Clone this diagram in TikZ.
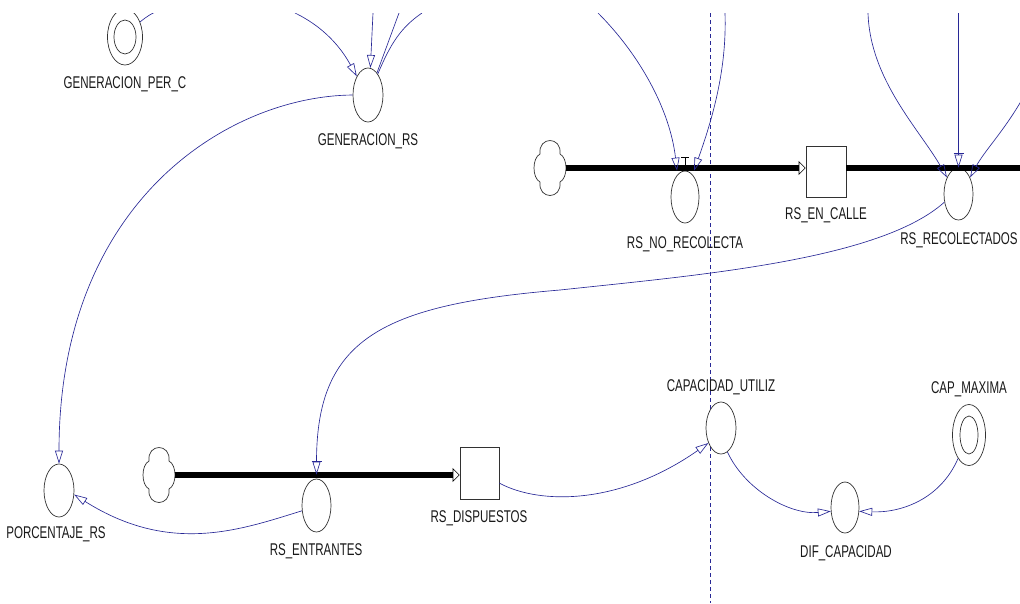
\documentclass[tikz,border=0pt]{standalone}
\usepackage{fontspec}
\setmainfont{Liberation Sans}
\usetikzlibrary{arrows.meta,shapes.geometric,calc}
\definecolor{linkblue}{RGB}{40,40,150}
\definecolor{shapegray}{RGB}{50,50,50}
\newcommand\mylbl[1]{\scalebox{0.68}[1]{#1}}
\begin{document}
\begin{tikzpicture}[x=1pt,y=-1pt,
  var/.style={ellipse, draw=shapegray, line width=0.7pt, fill=white, minimum width=29pt, minimum height=52pt, inner sep=0pt},
  innervar/.style={ellipse, draw=shapegray, line width=0.7pt, inner sep=0pt},
  lvl/.style={rectangle, draw=shapegray, line width=0.7pt, fill=white, minimum width=40pt, minimum height=52pt, inner sep=0pt},
  src/.style={ellipse, draw=none, minimum width=32pt, minimum height=56pt, inner sep=0pt},
  cloudline/.style={draw=shapegray, line width=0.7pt, fill=white},
  lab/.style={font=\fontsize{17}{18}\selectfont, inner sep=0pt, text=black!90},
  lnk/.style={draw=linkblue, line width=0.65pt, -{Triangle[open, length=13pt, width=8pt]}},
  plainlnk/.style={draw=linkblue, line width=0.65pt},
  valvebar/.style={draw=linkblue, line width=1.1pt},
  pipe/.style={draw=black, line width=5.5pt, -{Triangle[open, length=7pt, width=14pt, line width=0.6pt]}},
  pipeplain/.style={draw=black, line width=5.5pt},
  guide/.style={draw=linkblue, line width=0.6pt, dash pattern=on 4pt off 3pt},
]
\useasboundingbox (0,0) rectangle (1020,603);
\clip (0,13) rectangle (1020,603);

% free ends
\coordinate (a1) at (295,13);
\coordinate (a2) at (373,13);
\coordinate (a3) at (399,13);
\coordinate (a4) at (422,13);
\coordinate (a5) at (158,11);
\coordinate (b1) at (598,13);
\coordinate (b2) at (725,13);
\coordinate (c1) at (868,13);
\coordinate (c2) at (958.5,13);
\coordinate (c3) at (1024,96);
\coordinate (pend) at (1026,168);
\coordinate (d1) at (710,13);
\coordinate (d2) at (710,603);

% dashed guide
\draw[guide] (d1) -- (d2);

% nodes
\node[var, minimum width=35pt, minimum height=56pt] (gpc) at (125,37) {};
\node[innervar, minimum width=22pt, minimum height=34pt] (gpci) at (125,37) {};
\node[var, minimum width=30pt, minimum height=54pt] (genrs) at (368,95) {};
\node[src] (cloudA) at (550,168) {};
\node[var, minimum width=28pt, minimum height=52pt] (norec) at (685,197) {};
\node[lvl, minimum width=40pt, minimum height=51pt] (calle) at (826,171.5) {};
\node[var, minimum width=29pt, minimum height=52pt] (recol) at (958.5,194) {};
\node[src] (cloudB) at (159,475) {};
\node[var, minimum width=30pt, minimum height=53pt] (porc) at (59,490.5) {};
\node[var, minimum width=29pt, minimum height=53pt] (ent) at (316.5,505.5) {};
\node[lvl, minimum width=39pt, minimum height=52pt] (disp) at (479.5,473) {};
\node[var, minimum width=30pt, minimum height=52pt] (cap) at (721,428) {};
\node[var, minimum width=28pt, minimum height=51pt] (dif) at (845,507.5) {};
\node[var, minimum width=33pt, minimum height=61pt] (capmax) at (969,435) {};
\node[innervar, minimum width=18pt, minimum height=38pt] (capmaxi) at (969,435) {};

% cloud outlines
\begin{scope}[shift={(cloudA.center)}]
  \draw[cloudline] (10,-14) .. controls (12,-32) and (-12,-32) .. (-10,-14)
    .. controls (-18,-10) and (-18,10) .. (-10,14)
    .. controls (-12,32) and (12,32) .. (10,14)
    .. controls (18,10) and (18,-10) .. cycle;
\end{scope}
\begin{scope}[shift={(cloudB.center)}]
  \draw[cloudline] (10,-14) .. controls (12,-32) and (-12,-32) .. (-10,-14)
    .. controls (-18,-10) and (-18,10) .. (-10,14)
    .. controls (-12,32) and (12,32) .. (10,14)
    .. controls (18,10) and (18,-10) .. cycle;
\end{scope}

% pipes
\draw[pipe] (cloudA.east) -- (cloudA.east -| calle.west);
\draw[pipeplain] (calle.east |- cloudA.east) -- (pend);
\draw[pipe] (cloudB.east) -- (cloudB.east -| disp.west);

% labels
\node[lab] (lgpc) at (125,84) {\mylbl{GENERACION\_PER\_C}};
\node[lab] (lgenrs) at (368,141) {\mylbl{GENERACION\_RS}};
\node[lab] (lnorec) at (685,244) {\mylbl{RS\_NO\_RECOLECTA}};
\node[lab] (lcalle) at (826,215) {\mylbl{RS\_EN\_CALLE}};
\node[lab] (lrecol) at (959,240) {\mylbl{RS\_RECOLECTADOS}};
\node[lab] (lporc) at (56,534) {\mylbl{PORCENTAJE\_RS}};
\node[lab] (lent) at (316,551) {\mylbl{RS\_ENTRANTES}};
\node[lab] (ldisp) at (479,518) {\mylbl{RS\_DISPUESTOS}};
\node[lab] (lcap) at (721,387) {\mylbl{CAPACIDAD\_UTILIZ}};
\node[lab] (lcapmax) at (969,389) {\mylbl{CAP\_MAXIMA}};
\node[lab] (ldif) at (846,553) {\mylbl{DIF\_CAPACIDAD}};

% links at top
\draw[plainlnk] (gpc.45) .. controls (146,17) and (152,13) .. (a5);
\draw[lnk] (a1) .. controls (330,30) and (345,55) .. (genrs.121);
\draw[lnk] (a2) -- (genrs.85);
\draw[plainlnk] (genrs.68) -- (a3);
\draw[plainlnk] (genrs.65) .. controls (390,45) and (400,28) .. (a4);

\draw[lnk] (b1) .. controls (640,55) and (670,110) .. ($(norec.north)+(-8,0)$);
\draw[lnk] (b2) .. controls (727,70) and (712,120) .. ($(norec.north)+(9,0)$);
\draw[black, line width=0.8pt] ($(norec.north)+(-4,-13)$) -- ($(norec.north)+(4,-13)$)
  ($(norec.north)+(0,-13)$) -- ($(norec.north)+(0,-5)$);

\draw[lnk] (c1) .. controls (870,80) and (920,130) .. (recol.125);
\draw[lnk] (c2) -- (recol.north);
\draw[valvebar] ($(recol.north)+(-5,-14)$) -- ($(recol.north)+(5,-14)$);
\draw[lnk] (c3) .. controls (1005,130) and (985,150) .. (recol.55);

% main influence links
\draw[lnk] (genrs.west) .. controls (230,96) and (59,200) .. (porc.north);
\draw[lnk] (recol.210) .. controls (880,260) and (700,275) .. (560,290)
  .. controls (380,305) and (316.5,340) .. ($(ent.north)+(0,-4)$);
\draw[valvebar] ($(ent.north)+(-5,-17)$) -- ($(ent.north)+(5,-17)$);
\draw[lnk] (ent.200) .. controls (240,530) and (170,555) .. (porc.-15);
\draw[lnk] (disp.-27) .. controls (540,505) and (620,505) .. (cap.230);
\draw[lnk] (cap.285) .. controls (745,490) and (790,515) .. (dif.195);
\draw[lnk] (capmax.245) .. controls (940,500) and (900,513) .. (dif.-15);
\end{tikzpicture}
\end{document}
